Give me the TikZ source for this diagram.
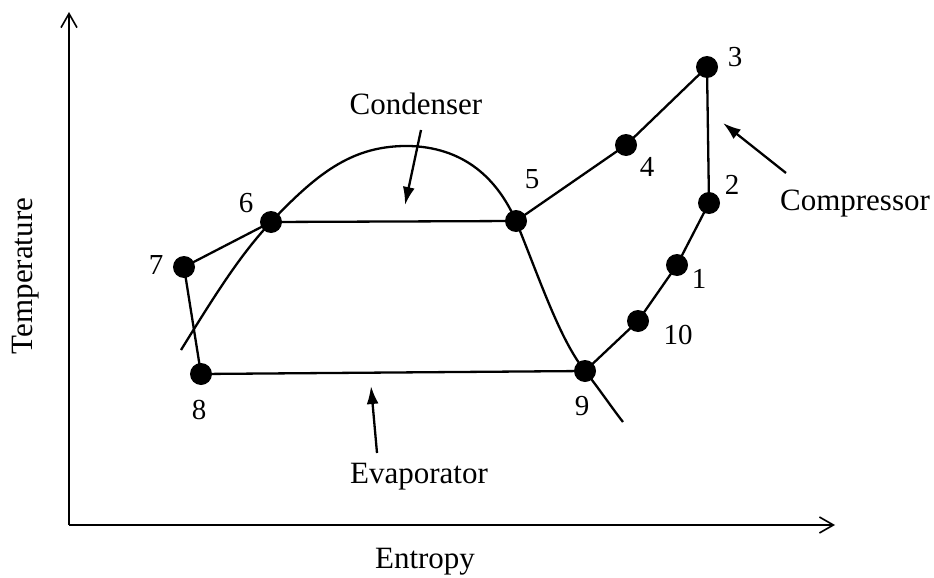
\documentclass[tikz,border=0pt]{standalone}
\usepackage{fontspec}
\setmainfont{Liberation Serif}
\usetikzlibrary{arrows.meta}
\begin{document}
\begin{tikzpicture}[x=1pt,y=-1pt,
  dot/.style={circle,fill=black,inner sep=0pt,minimum size=22pt},
  lbl/.style={font=\fontsize{31}{36}\selectfont,inner sep=0pt},
  num/.style={font=\fontsize{29}{34}\selectfont,inner sep=0pt},
  ln/.style={line width=2.3pt},
  axis/.style={line width=2.3pt,-{Straight Barb[length=14pt,width=16pt,line width=1.6pt]}},
  pointer/.style={line width=2.3pt,-{Latex[length=18pt,width=12pt]}}]
\useasboundingbox (0,0) rectangle (934,578);
% axes
\coordinate (O) at (69,525);
\coordinate (Ytop) at (69,12);
\coordinate (Xend) at (835,525);
\draw[axis] (O) -- (Ytop);
\draw[axis] (O) -- (Xend);
% saturation dome
\draw[ln] (181,350) .. controls (215,295) and (240,255) .. (271,222)
  .. controls (320,170) and (355,145) .. (410,146)
  .. controls (470,148) and (500,185) .. (516,221)
  .. controls (540,280) and (560,340) .. (585,371)
  .. controls (600,390) and (612,408) .. (623,422);
% state points
\node[dot] (n1) at (677,265) {};
\node[dot] (n2) at (709,203) {};
\node[dot] (n3) at (707,67) {};
\node[dot] (n4) at (626,145) {};
\node[dot] (n5) at (516,221) {};
\node[dot] (n6) at (271,222) {};
\node[dot] (n7) at (184,267) {};
\node[dot] (n8) at (201,374) {};
\node[dot] (n9) at (585,371) {};
\node[dot] (n10) at (638,321) {};
% cycle
\draw[ln] (n7.center) -- (n6.center) -- (n5.center) -- (n4.center) -- (n3.center) -- (n2.center) -- (n1.center) -- (n10.center) -- (n9.center) -- (n8.center) -- (n7.center);
% number labels
\node[num] (t1) at (699,279) {1};
\node[num] (t2) at (732,185) {2};
\node[num] (t3) at (735,57) {3};
\node[num] (t4) at (647,167) {4};
\node[num] (t5) at (532,179) {5};
\node[num] (t6) at (246,203) {6};
\node[num] (t7) at (156,265) {7};
\node[num] (t8) at (199,410) {8};
\node[num] (t9) at (582,406) {9};
\node[num] (t10) at (678,335) {10};
% text labels
\node[lbl] (cond) at (416,104) {Condenser};
\node[lbl] (evap) at (419,477) {Evaporator};
\node[lbl] (comp) at (855,204) {Compressor};
\node[lbl] (ent) at (425,562) {Entropy};
\node[lbl,rotate=90] (temp) at (26,276) {Temperature};
% pointers
\coordinate (cA) at (421,130); \coordinate (cB) at (405,205);
\coordinate (eA) at (377,453); \coordinate (eB) at (371,386);
\coordinate (pA) at (786,173); \coordinate (pB) at (723,123);
\draw[pointer] (cA) -- (cB);
\draw[pointer] (eA) -- (eB);
\draw[pointer] (pA) -- (pB);
\end{tikzpicture}
\end{document}
